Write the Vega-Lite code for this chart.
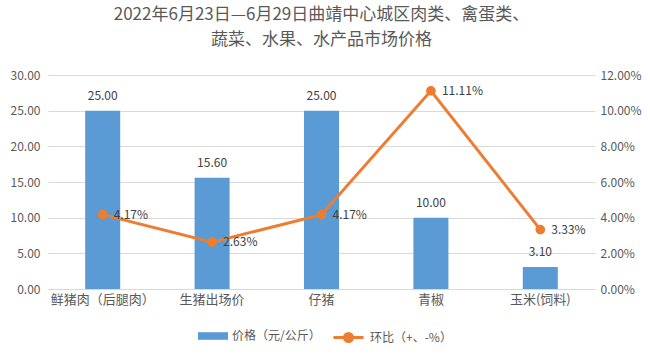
{
  "$schema": "https://vega.github.io/schema/vega-lite/v6.json",
  "autosize": "none",
  "width": 547,
  "height": 214,
  "padding": {"left": 48, "top": 75, "right": 55, "bottom": 67},
  "background": "white",
  "config": {
    "font": "Noto Sans CJK SC",
    "view": {"stroke": null},
    "axis": {"labelColor": "#595959", "labelFontSize": 12, "titleColor": "#595959"},
    "legend": {"labelColor": "#595959", "labelFontSize": 12}
  },
  "title": {
    "text": ["2022年6月23日—6月29日曲靖中心城区肉类、禽蛋类、", "蔬菜、水果、水产品市场价格"],
    "fontSize": 17,
    "fontWeight": "normal",
    "color": "#595959",
    "lineHeight": 25,
    "anchor": "middle",
    "offset": 20
  },
  "data": {
    "values": [
      {"name": "鲜猪肉（后腿肉）", "price": 25.0, "ratio": 0.0417},
      {"name": "生猪出场价", "price": 15.6, "ratio": 0.0263},
      {"name": "仔猪", "price": 25.0, "ratio": 0.0417},
      {"name": "青椒", "price": 10.0, "ratio": 0.1111},
      {"name": "玉米(饲料)", "price": 3.1, "ratio": 0.0333}
    ]
  },
  "encoding": {
    "x": {
      "field": "name", "type": "nominal", "sort": null, "title": null,
      "scale": {"paddingInner": 0.68, "paddingOuter": 0.34},
      "axis": {"labelAngle": 0, "domainColor": "#d9d9d9", "ticks": false, "labelPadding": 4, "labelFontSize": 13}
    }
  },
  "layer": [
    {
      "encoding": {
        "y": {
          "field": "price", "type": "quantitative", "title": null,
          "scale": {"domain": [0, 30]},
          "axis": {"values": [0, 5, 10, 15, 20, 25, 30], "format": ".2f", "domain": false, "ticks": false, "gridColor": "#d9d9d9", "labelPadding": 8, "labelOverlap": false}
        }
      },
      "layer": [
        {
          "mark": {"type": "bar", "color": "#5B9BD5"},
          "encoding": {
            "color": {
              "datum": "价格（元/公斤）", "type": "nominal",
              "scale": {"range": ["#5B9BD5"]},
              "legend": {"title": null, "orient": "none", "legendX": 155, "legendY": 251, "symbolType": "M-1.5,-0.38H1.5V0.38H-1.5Z", "symbolSize": 400, "symbolStrokeWidth": 0, "labelOffset": 9}
            }
          }
        },
        {
          "mark": {"type": "text", "dy": -15, "color": "#404040", "fontSize": 12},
          "encoding": {
            "text": {"field": "price", "type": "quantitative", "format": ".2f"}
          }
        }
      ]
    },
    {
      "encoding": {
        "y": {
          "field": "ratio", "type": "quantitative", "title": null,
          "scale": {"domain": [0, 0.12]},
          "axis": {"orient": "right", "values": [0, 0.02, 0.04, 0.06, 0.08, 0.1, 0.12], "format": ".2%", "domain": false, "ticks": false, "grid": false, "labelPadding": 5, "labelOverlap": false}
        }
      },
      "layer": [
        {
          "mark": {"type": "line", "color": "#ED7D31", "strokeWidth": 3, "point": {"filled": true, "size": 60, "color": "#ED7D31"}},
          "encoding": {
            "stroke": {
              "datum": "环比（+、-%）", "type": "nominal",
              "scale": {"range": ["#ED7D31"]},
              "legend": {"title": null, "orient": "none", "legendX": 289, "legendY": 251, "symbolType": "M-1.5,0H1.5M-0.4,0A0.4,0.4 0 1,1 0.4,0A0.4,0.4 0 1,1 -0.4,0Z", "symbolFillColor": "#ED7D31", "symbolStrokeWidth": 3, "symbolSize": 400, "labelOffset": 10}
            }
          }
        },
        {
          "mark": {"type": "text", "align": "left", "dx": 11, "dy": 0, "color": "#404040", "fontSize": 12},
          "encoding": {
            "text": {"field": "ratio", "type": "quantitative", "format": ".2%"}
          }
        }
      ]
    }
  ],
  "resolve": {"scale": {"y": "independent", "color": "independent", "stroke": "independent"}}
}
